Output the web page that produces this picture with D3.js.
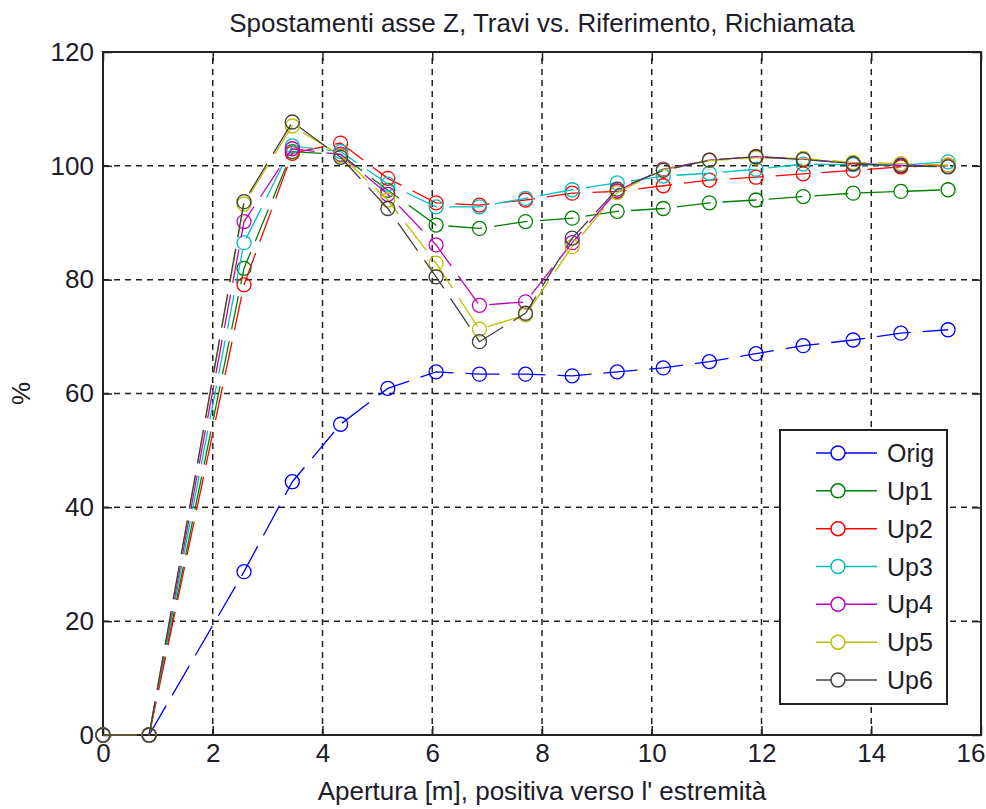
<!DOCTYPE html>
<html>
<head>
<meta charset="utf-8">
<script src="https://cdn.jsdelivr.net/npm/d3@7"></script>
<style>
  body { margin: 0; background: #fff; }
  text { font-family: "Liberation Sans", Arial, sans-serif; fill: #1c1c2a; }
</style>
</head>
<body>
<div id="chart"></div>
<script>
// apertura [m]
var xVals = [0, 0.84, 2.57, 3.45, 4.33, 5.19, 6.07, 6.86, 7.70, 8.55, 9.37, 10.21, 11.05, 11.90, 12.76, 13.67, 14.54, 15.40];

var orig = [0, 0, 28.7, 44.5, 54.6, 60.9, 63.8, 63.4, 63.4, 63.1, 63.8, 64.5, 65.6, 67.0, 68.4, 69.4, 70.6, 71.2];
var up1 = [0, 0, 82.0, 102.5, 102.0, 95.7, 89.6, 89.0, 90.2, 90.8, 92.0, 92.5, 93.5, 94.0, 94.6, 95.2, 95.5, 95.8];
var up2 = [0, 0, 79.1, 102.2, 104.0, 97.8, 93.5, 93.1, 94.0, 95.2, 95.5, 96.5, 97.5, 98.0, 98.6, 99.2, 99.8, 100.1];
var up3 = [0, 0, 86.5, 103.5, 102.5, 96.8, 92.8, 92.8, 94.3, 95.8, 97.0, 98.2, 98.7, 99.4, 100.3, 100.2, 100.1, 100.7];
var up4 = [0, 0, 90.2, 103.0, 102.0, 95.0, 86.1, 75.5, 76.1, 86.5, 95.6, 99.4, 101.0, 101.6, 101.2, 100.4, 100.1, 100.0];
var up5 = [0, 0, 93.3, 107.0, 101.8, 94.0, 82.9, 71.3, 73.8, 85.8, 95.3, 99.3, 100.9, 101.4, 101.3, 100.6, 100.4, 100.1];
var up6 = [0, 0, 93.7, 107.7, 101.5, 92.5, 80.5, 69.1, 74.1, 87.3, 95.9, 99.2, 101.0, 101.6, 101.1, 100.4, 100.0, 99.8];

var seriesNames = ["Orig", "Up1", "Up2", "Up3", "Up4", "Up5", "Up6"];
var seriesColors = ["#0000ff", "#008000", "#ff0000", "#00bfbf", "#bf00bf", "#bfbf00", "#404040"];
var seriesData = [orig, up1, up2, up3, up4, up5, up6];

var xTicks = [0, 2, 4, 6, 8, 10, 12, 14, 16];
var yTicks = [0, 20, 40, 60, 80, 100, 120];

var W = 986, H = 809;
var margin = { top: 52, right: 4, bottom: 74, left: 103 };
var fontSize = 26;

var svg = d3.select("#chart").append("svg")
    .attr("width", W)
    .attr("height", H);

svg.append("rect").attr("width", W).attr("height", H).attr("fill", "#fff");

var x = d3.scaleLinear().domain([0, 16]).range([margin.left, W - margin.right - 1]);
var y = d3.scaleLinear().domain([0, 120]).range([H - margin.bottom, margin.top]);

var x0 = x.range()[0], x1 = x.range()[1];
var y0 = y.range()[0], y1 = y.range()[1];

// grid
var grid = svg.append("g")
    .attr("stroke", "#222")
    .attr("stroke-width", 1.5)
    .attr("stroke-dasharray", "6,5");

grid.selectAll(".vg")
    .data(xTicks.slice(1, -1))
    .enter().append("line")
    .attr("x1", function (d) { return x(d); })
    .attr("x2", function (d) { return x(d); })
    .attr("y1", y0).attr("y2", y1);

grid.selectAll(".hg")
    .data(yTicks.slice(1, -1))
    .enter().append("line")
    .attr("y1", function (d) { return y(d); })
    .attr("y2", function (d) { return y(d); })
    .attr("x1", x0).attr("x2", x1);

// axes (ticks inward, mirrored on top/right)
var tickLen = 9;
var axBottom = svg.append("g").attr("transform", "translate(0," + y0 + ")")
    .call(d3.axisBottom(x).tickValues(xTicks).tickSize(-tickLen).tickPadding(9).tickFormat(d3.format("d")));
var axTop = svg.append("g").attr("transform", "translate(0," + y1 + ")")
    .call(d3.axisTop(x).tickValues(xTicks).tickSize(-tickLen).tickFormat(""));
var axLeft = svg.append("g").attr("transform", "translate(" + x0 + ",0)")
    .call(d3.axisLeft(y).tickValues(yTicks).tickSize(-tickLen).tickPadding(9).tickFormat(d3.format("d")));
var axRight = svg.append("g").attr("transform", "translate(" + x1 + ",0)")
    .call(d3.axisRight(y).tickValues(yTicks).tickSize(-tickLen).tickFormat(""));

[axBottom, axTop, axLeft, axRight].forEach(function (a) {
    a.select(".domain").remove();
    a.selectAll(".tick line").attr("stroke", "#222").attr("stroke-width", 1.5);
    a.selectAll("text").attr("font-size", fontSize).attr("fill", "#1c1c2a")
        .style("font-family", "'Liberation Sans', Arial, sans-serif");
});

// last x label sits on the window edge, keep it inside
axBottom.selectAll(".tick text")
    .filter(function (d) { return d === 16; })
    .attr("text-anchor", "end")
    .attr("x", W - 1 - x1);

svg.append("rect")
    .attr("x", x0).attr("y", y1)
    .attr("width", x1 - x0).attr("height", y0 - y1)
    .attr("fill", "none").attr("stroke", "#222").attr("stroke-width", 2);

// series
var line = d3.line()
    .x(function (d, i) { return x(xVals[i]); })
    .y(function (d) { return y(d); });

seriesData.forEach(function (vals, k) {
    var g = svg.append("g");
    g.append("path")
        .attr("d", line(vals))
        .attr("fill", "none")
        .attr("stroke", seriesColors[k])
        .attr("stroke-width", 1.3)
        .attr("stroke-dasharray", "34,12");
    g.selectAll("circle")
        .data(vals)
        .enter().append("circle")
        .attr("cx", function (d, i) { return x(xVals[i]); })
        .attr("cy", function (d) { return y(d); })
        .attr("r", 7)
        .attr("fill", "none")
        .attr("stroke", seriesColors[k])
        .attr("stroke-width", 1.3);
});

// title and labels
svg.append("text")
    .attr("x", (x0 + x1) / 2).attr("y", 32)
    .attr("text-anchor", "middle")
    .attr("font-size", fontSize)
    .text("Spostamenti asse Z, Travi vs. Riferimento, Richiamata");

svg.append("text")
    .attr("x", (x0 + x1) / 2).attr("y", 800)
    .attr("text-anchor", "middle")
    .attr("font-size", fontSize)
    .text("Apertura [m], positiva verso l' estremità");

svg.append("text")
    .attr("transform", "translate(30," + ((y0 + y1) / 2) + ") rotate(-90)")
    .attr("text-anchor", "middle")
    .attr("font-size", fontSize)
    .text("%");

// legend
var lg = svg.append("g").attr("transform", "translate(780,430)");
lg.append("rect")
    .attr("width", 167).attr("height", 274)
    .attr("fill", "#fff").attr("stroke", "#222").attr("stroke-width", 2);

var rowY = d3.scalePoint().domain(seriesNames).range([23, 250]);

seriesNames.forEach(function (name, k) {
    var ry = rowY(name);
    lg.append("line")
        .attr("x1", 36).attr("x2", 97)
        .attr("y1", ry).attr("y2", ry)
        .attr("stroke", seriesColors[k]).attr("stroke-width", 1.5);
    lg.append("circle")
        .attr("cx", 58).attr("cy", ry).attr("r", 7)
        .attr("fill", "#fff").attr("stroke", seriesColors[k]).attr("stroke-width", 1.5);
    lg.append("text")
        .attr("x", 107).attr("y", ry + 9)
        .attr("font-size", 25)
        .text(name);
});
</script>
</body>
</html>
